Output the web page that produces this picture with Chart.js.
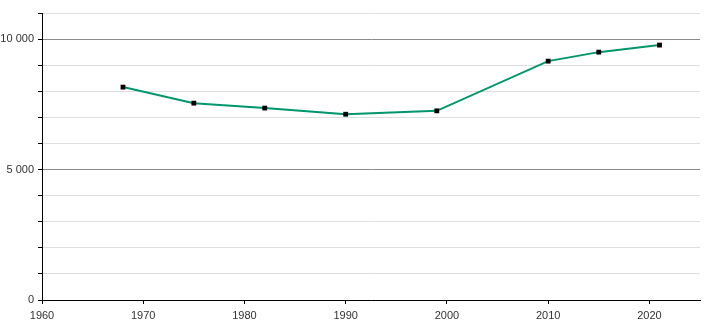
<!DOCTYPE html>
<html>
<head>
<meta charset="utf-8">
<script src="https://cdn.jsdelivr.net/npm/chart.js@4/dist/chart.umd.min.js"></script>
<style>
  html, body { margin: 0; padding: 0; background: #fff; }
  #wrap { width: 710px; height: 320px; position: relative; }
</style>
</head>
<body>
<div id="wrap"><canvas id="c" width="710" height="320"></canvas></div>
<script>
const years = [1968, 1975, 1982, 1990, 1999, 2010, 2015, 2021];
const population = [8160, 7545, 7355, 7120, 7250, 9155, 9500, 9770];
const yTickLabels = [0, 5000, 10000];

const fmt = v => String(v).replace(/\B(?=(\d{3})+(?!\d))/g, ' ');

new Chart(document.getElementById('c'), {
  type: 'line',
  data: {
    datasets: [{
      data: years.map((y, i) => ({ x: y, y: population[i] })),
      borderColor: '#00966c',
      borderWidth: 2,
      tension: 0,
      pointStyle: 'rect',
      pointRadius: 3.4,
      pointBackgroundColor: '#000',
      pointBorderWidth: 0,
      clip: false
    }]
  },
  options: {
    responsive: false,
    animation: false,
    events: [],
    layout: { padding: { top: 13, right: 10, left: 0, bottom: 0 } },
    plugins: { legend: { display: false }, tooltip: { enabled: false } },
    scales: {
      x: {
        type: 'linear',
        min: 1960,
        max: 2025,
        afterFit: s => { s.height = 20; },
        ticks: {
          stepSize: 10,
          includeBounds: false,
          callback: v => String(v),
          color: '#333',
          font: { family: 'Liberation Sans, Arial, sans-serif', size: 11 },
          padding: 5,
          maxRotation: 0
        },
        grid: { drawOnChartArea: false, tickLength: 4, tickColor: '#000' },
        border: { color: '#000', width: 1 }
      },
      y: {
        min: 0,
        max: 11000,
        afterFit: s => { s.width = 42; },
        ticks: {
          stepSize: 1000,
          callback: v => yTickLabels.includes(v) ? fmt(v) : '',
          color: '#333',
          font: { family: 'Liberation Sans, Arial, sans-serif', size: 11 },
          padding: 4
        },
        grid: {
          color: ctx => (ctx.tick && ctx.tick.value % 5000 === 0) ? '#8a8a8a' : '#dedede',
          tickLength: 4,
          tickColor: '#000'
        },
        border: { color: '#000', width: 1 }
      }
    }
  }
});
</script>
</body>
</html>
